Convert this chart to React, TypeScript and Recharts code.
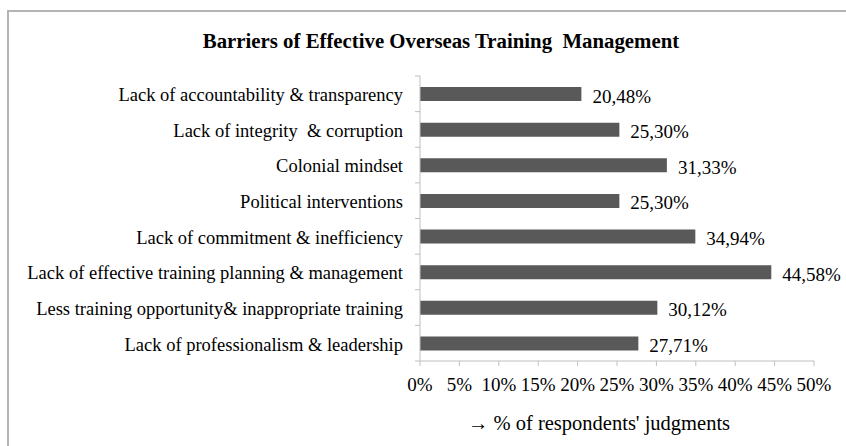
import React from 'react'
import { BarChart, Bar, XAxis, YAxis, LabelList } from 'recharts'

const categories = [
  'Lack of accountability & transparency',
  'Lack of integrity  & corruption',
  'Colonial mindset',
  'Political interventions',
  'Lack of commitment & inefficiency',
  'Lack of effective training planning & management',
  'Less training opportunity& inappropriate training',
  'Lack of professionalism & leadership',
]
const shares = [20.48, 25.3, 31.33, 25.3, 34.94, 44.58, 30.12, 27.71]
const xTicks = [0, 5, 10, 15, 20, 25, 30, 35, 40, 45, 50]

const data = categories.map((name, i) => ({ name, value: shares[i] }))

const FONT = '"Liberation Serif", "Times New Roman", serif'
const GRID = '#bfbfbf'
const fmt = (v: number) => `${v.toFixed(2).replace('.', ',')}%`

// category labels with Excel-style tick marks between the bands
function CategoryTick(props: any) {
  const { x, y, payload, index, visibleTicksCount } = props
  const half = payload?.offset ?? 17.8
  const axisX = x + 17
  return (
    <g>
      <line x1={axisX - 5} x2={axisX} y1={y - half} y2={y - half} stroke={GRID} />
      {index === visibleTicksCount - 1 && (
        <line x1={axisX - 5} x2={axisX} y1={y + half} y2={y + half} stroke={GRID} />
      )}
      <text
        x={x}
        y={y}
        dy="0.4em"
        textAnchor="end"
        fill="#000"
        style={{ whiteSpace: 'pre', fontFamily: FONT, fontSize: 18.5 }}
      >
        {payload.value}
      </text>
    </g>
  )
}

function ValueLabel(props: any) {
  const { x, y, width, height, value } = props
  return (
    <text
      x={x + width + 11}
      y={y + height / 2}
      dy="0.45em"
      fill="#000"
      style={{ fontFamily: FONT, fontSize: 19 }}
    >
      {fmt(value)}
    </text>
  )
}

export default function App() {
  return (
    <div
      style={{
        width: 846,
        height: 446,
        position: 'relative',
        overflow: 'hidden',
        background: '#fff',
        fontFamily: FONT,
      }}
    >
      <style>{'html,body{margin:0;padding:0;overflow:hidden}'}</style>
      {/* frame, only top/left edges visible */}
      <div
        style={{
          position: 'absolute',
          left: 7,
          top: 10,
          width: 900,
          height: 500,
          border: '2px solid #b4b4b4',
        }}
      />
      {/* Title */}
      <div
        style={{
          position: 'absolute',
          left: 0,
          top: 30.5,
          width: 882,
          textAlign: 'center',
          fontFamily: FONT,
          fontWeight: 'bold',
          fontSize: 20.8,
          lineHeight: 1,
          whiteSpace: 'pre',
        }}
      >
        Barriers of Effective Overseas Training  Management
      </div>
      <div style={{ position: 'absolute', left: 0, top: 0 }}>
        <BarChart
          width={846}
          height={446}
          layout="vertical"
          data={data}
          margin={{ top: 76, right: 32, left: 0, bottom: 0 }}
          style={{ fontFamily: FONT, overflow: 'visible' }}
        >
          <XAxis
            type="number"
            domain={[0, 50]}
            ticks={xTicks}
            interval={0}
            tickFormatter={(v: number) => `${v}%`}
            height={85}
            tickSize={5}
            tickMargin={12}
            axisLine={{ stroke: GRID }}
            tickLine={{ stroke: GRID }}
            tick={{ fontFamily: FONT, fontSize: 19, fill: '#000' }}
            label={{
              value: "→ % of respondents' judgments",
              position: 'insideBottom',
              offset: 16,
              dx: -18,
              fontFamily: FONT,
              fontSize: 20.5,
              fill: '#000',
            }}
          />
          <YAxis
            type="category"
            dataKey="name"
            width={420}
            interval={0}
            tickSize={5}
            tickMargin={12}
            axisLine={{ stroke: GRID }}
            tickLine={false}
            tick={<CategoryTick />}
          />
          <Bar dataKey="value" fill="#595959" barSize={14} isAnimationActive={false}>
            <LabelList dataKey="value" content={<ValueLabel />} />
          </Bar>
        </BarChart>
      </div>
    </div>
  )
}
